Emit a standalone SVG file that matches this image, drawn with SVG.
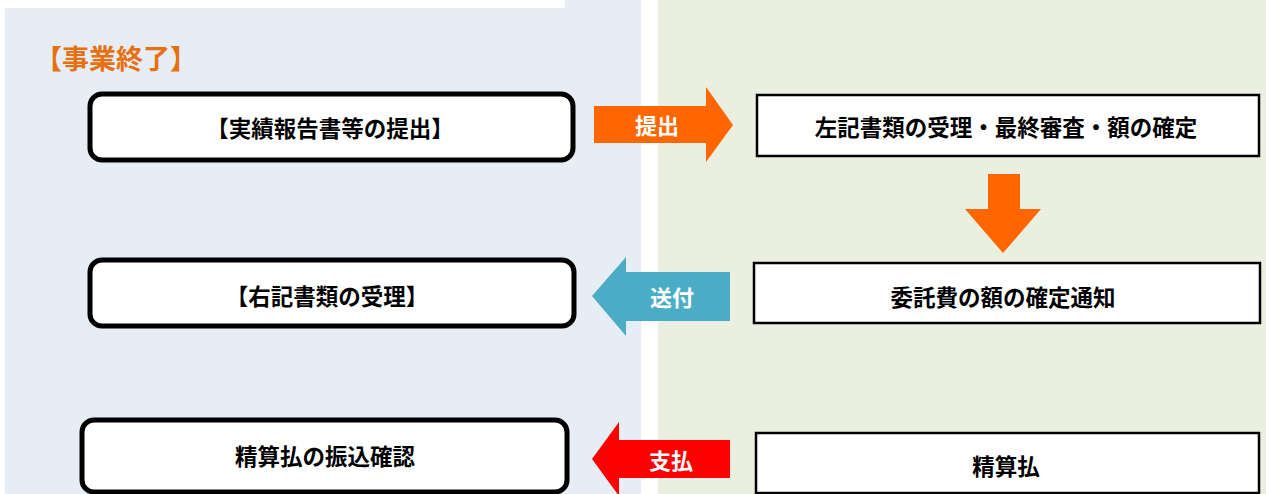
<svg xmlns="http://www.w3.org/2000/svg" width="1266" height="494" viewBox="0 0 1266 494">
<style>
text{font-family:"Noto Sans CJK JP","Noto Sans CJK SC",sans-serif;font-weight:bold;text-anchor:middle;dominant-baseline:central}
.lbl{font-size:22.5px;fill:#000}
.arr{font-size:22px;fill:#fff}
.rbox{fill:#fff;stroke:#000;stroke-width:5}
.sbox{fill:#fff;stroke:#000;stroke-width:2.5}
</style>
<rect x="0" y="0" width="1266" height="494" fill="#fff"/>
<rect x="5" y="0" width="636" height="494" fill="#E6EDF5"/>
<rect x="0" y="0" width="565" height="8" fill="#fff"/>
<rect x="658" y="0" width="608" height="494" fill="#EBEFDF"/>
<text x="116" y="57" style="font-size:27px;fill:#E8700F">【事業終了】</text>
<g id="connectors">
<g id="arrow-teishutsu">
<polygon points="594,106 706,106 706,87 733,125 706,162 706,143 594,143" fill="#FF6600"/>
<text class="arr" x="657" y="124">提出</text>
</g>
<g id="arrow-down">
<polygon points="988,174 1020,174 1020,209 1041,209 1003,253 965,209 988,209" fill="#FF6600"/>
</g>
<g id="arrow-soufu">
<polygon points="730,272 626,272 626,257 592,296 626,336 626,321 730,321" fill="#4BACC6"/>
<text class="arr" x="672" y="296">送付</text>
</g>
<g id="arrow-shiharai">
<polygon points="730,440 619,440 619,422 592,459 619,496 619,478 730,478" fill="#FF0000"/>
<text class="arr" x="671" y="459">支払</text>
</g>
</g>
<g id="node-jisseki">
<rect class="rbox" x="90" y="94" width="483" height="66" rx="12"/>
<text class="lbl" x="330" y="127">【実績報告書等の提出】</text>
</g>
<g id="node-uketori">
<rect class="rbox" x="90" y="260" width="484" height="66" rx="12"/>
<text class="lbl" x="327" y="295">【右記書類の受理】</text>
</g>
<g id="node-furikomi">
<rect class="rbox" x="82" y="420" width="485" height="72" rx="12"/>
<text class="lbl" x="325" y="455">精算払の振込確認</text>
</g>
<g id="node-shinsa">
<rect class="sbox" x="757" y="95" width="502" height="61"/>
<text class="lbl" x="1006" y="126">左記書類の受理・最終審査・額の確定</text>
</g>
<g id="node-tsuchi">
<rect class="sbox" x="754" y="263" width="506" height="60"/>
<text class="lbl" x="1003" y="296">委託費の額の確定通知</text>
</g>
<g id="node-seisanbarai">
<rect class="sbox" x="756" y="433" width="503" height="60"/>
<text class="lbl" x="1006" y="465">精算払</text>
</g>
</svg>
